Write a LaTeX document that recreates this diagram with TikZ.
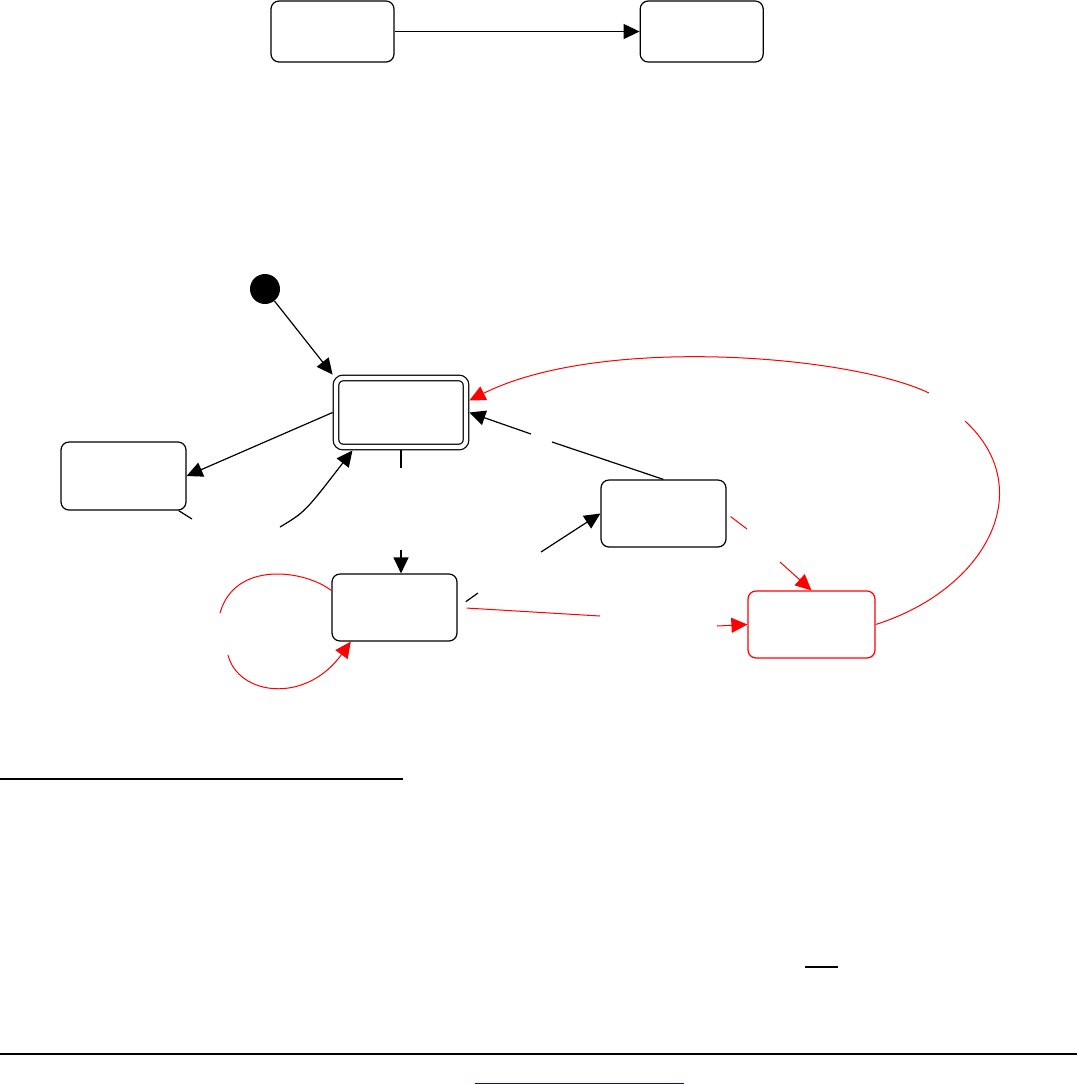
\documentclass[tikz,border=0pt]{standalone}
\usepackage{tikz}
\usetikzlibrary{arrows.meta,positioning}
\definecolor{wire}{HTML}{000000}
\definecolor{alert}{HTML}{FF0000}
\definecolor{link}{HTML}{0000FF}

\begin{document}
\begin{tikzpicture}[x=0.5pt,y=-0.5pt,
 state/.style={draw=wire,line width=0.6pt,rounded corners=4pt,
 minimum width=62.5pt,minimum height=33.5pt,inner sep=0pt},
 wireline/.style={draw=wire,line width=0.6pt},
 redline/.style={draw=alert,line width=0.5pt},
 arr/.style={-{Triangle[length=8pt,width=7.5pt]},draw=wire,line width=0.6pt},
 redarr/.style={-{Triangle[length=8pt,width=7.5pt]},draw=alert,line width=0.5pt}]
\useasboundingbox (0,0) rectangle (1077,1084);
% states
\node[state,minimum width=61.5pt,minimum height=30.5pt] (topa) at (332.5,31.5) {};
\node[state,minimum width=61.5pt,minimum height=30.5pt,right=122.5pt of topa] (topb) {};
\node[circle,fill=wire,inner sep=0pt,minimum size=15pt] (start) at (265,289) {};
\node[state,double,double distance=2.2pt,rounded corners=3.5pt,
 minimum width=65pt,minimum height=34.5pt,outer sep=1.7pt] (hub) at (401,412.5) {};
\node[state,minimum height=34pt] (side) at (123.5,476) {};
\node[state] (loopst) at (394.5,607.5) {};
\node[state] (mid) at (663.5,513.5) {};
\node[state,draw=alert,minimum width=63.5pt] (fault) at (811.5,624.5) {};
% gaps left by the labels
\coordinate (sg1) at (192,519);
\coordinate (sg2) at (280,527);
\coordinate (hg1) at (401,468);
\coordinate (hg2) at (401,550);
\coordinate (lg1) at (220,613);
\coordinate (lg2) at (228,655);
\coordinate (mg1) at (478,593);
\coordinate (mg2) at (541,552);
\coordinate (rg1) at (552,442);
\coordinate (rg2) at (531,434);
\coordinate (fg1) at (965,421);
\coordinate (fg2) at (929,393);
\coordinate (cg1) at (600,616);
\coordinate (cg2) at (717,626);
\coordinate (dg1) at (747,529);
\coordinate (dg2) at (780,562);
% transitions
\draw[arr] (topa)--(topb);
\draw[arr] (start)--(hub.north west);
\draw[arr] (hub.west)--(side.east);
\draw[wireline] (side)--(sg1);
\draw[arr] (sg2) .. controls (305,512) .. (hub.218);
\draw[wireline] (hub.south)--(hg1);
\draw[arr] (hg2)--(hg2 |- loopst.north);
\draw[redline] (loopst.165) .. controls (305,570) and (235,560) .. (lg1);
\draw[redarr] (lg2) .. controls (238,695) and (305,705) .. (loopst.218);
\draw[wireline,shorten <=5pt] (loopst.east)--(mg1);
\draw[arr] (mg2)--(mid.west);
\draw[wireline] (mid.north)--(rg1);
\draw[arr] (rg2)--(hub.east);
\draw[redline] (fault.east) .. controls (985,590) and (1040,490) .. (fg1);
\draw[redarr] (fg2) .. controls (850,355) and (600,335) .. (hub.10);
\draw[redline,shorten <=4.5pt] (loopst.east)--(cg1);
\draw[redarr] (cg2)--(fault.west);
\draw[redline,shorten <=2.5pt] (mid.east)--(dg1);
\draw[redarr] (dg2)--(fault.north);
% rules below
\draw[line width=0.8pt] (0,779)--(403,779);
\draw[line width=1pt] (805,967)--(838,967);
\draw[line width=1.2pt] (0,1054)--(1077,1054);
\draw[link,line width=0.5pt] (475,1083)--(684,1083);
\end{tikzpicture}
\end{document}
